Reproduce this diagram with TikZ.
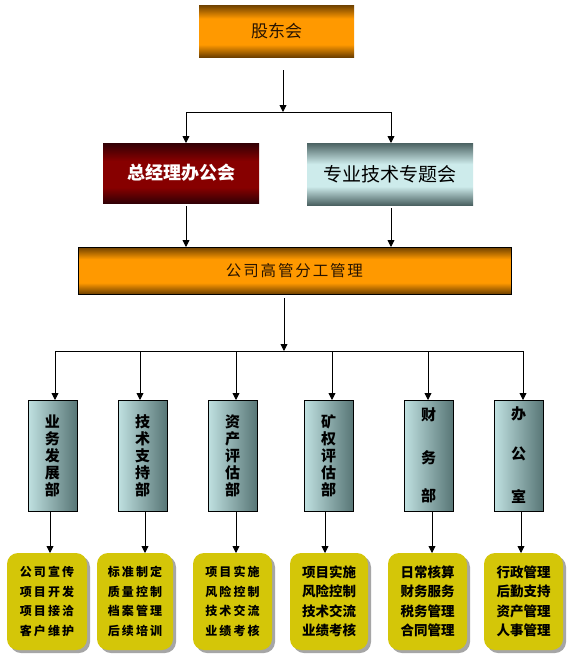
\documentclass[tikz,border=0pt]{standalone}
\usepackage{fontspec}
\setmainfont{Noto Sans CJK SC}
\newfontfamily\cjksp[LetterSpace=18]{Noto Sans CJK SC}
\usetikzlibrary{arrows.meta,shadows}
\definecolor{orng}{RGB}{255,153,0}
\definecolor{orngd}{RGB}{110,64,0}
\definecolor{redm}{RGB}{135,0,0}
\definecolor{redd}{RGB}{50,0,5}
\definecolor{cyanl}{RGB}{205,235,235}
\definecolor{cyand}{RGB}{75,98,98}
\definecolor{deptl}{RGB}{192,225,225}
\definecolor{deptd}{RGB}{88,118,118}
\definecolor{ylw}{RGB}{212,198,8}
\definecolor{txtd}{RGB}{40,20,0}
\pgfdeclareverticalshading{orangesh}{100bp}{color(0bp)=(orngd); color(25bp)=(orngd); color(37bp)=(orng); color(62bp)=(orng); color(75bp)=(orngd); color(100bp)=(orngd)}
\pgfdeclareverticalshading{redsh}{100bp}{color(0bp)=(redd); color(25bp)=(redd); color(38bp)=(redm); color(60bp)=(redm); color(75bp)=(redd); color(100bp)=(redd)}
\pgfdeclareverticalshading{cyansh}{100bp}{color(0bp)=(cyand); color(25bp)=(cyand); color(40bp)=(cyanl); color(58bp)=(cyanl); color(75bp)=(cyand); color(100bp)=(cyand)}
\begin{document}
\begin{tikzpicture}[x=1pt,y=-1pt,
  arr/.style={-{Triangle[width=7pt,length=7pt]},line width=0.9pt},
  ln/.style={line width=0.9pt},
  basebox/.style={inner sep=0pt,outer sep=0pt,anchor=center},
  orangebox/.style={basebox,shading=orangesh,text=txtd},
  redbox/.style={basebox,shading=redsh,text=white,font=\fontsize{18}{20}\selectfont\bfseries},
  cyanbox/.style={basebox,shading=cyansh,text=black,font=\fontsize{19}{21}\selectfont},
  dept/.style={basebox,draw=black,line width=0.8pt,left color=deptl,right color=deptd,minimum width=49pt,minimum height=111pt,align=center,font=\fontsize{15}{17}\selectfont\bfseries},
  ybox/.style={basebox,fill=ylw,rounded corners=11pt,minimum height=97pt,minimum width=#1,align=center,
     drop shadow={shadow xshift=3pt,shadow yshift=-3pt,fill=black!35,opacity=1}},
  ytxtA/.style={font=\cjksp\fontsize{12}{19.5}\selectfont\bfseries},
  ytxtB/.style={font=\fontsize{13.5}{19.5}\selectfont\bfseries}
]
\useasboundingbox[fill=white] (0,0) rectangle (572,662);

% top level
\node[orangebox,minimum width=155pt,minimum height=52pt,font=\fontsize{17}{19}\selectfont] (top) at (276.5,31) {股东会};
\node[redbox,minimum width=156pt,minimum height=60pt] (gm) at (181,173) {总经理办公会};
\node[cyanbox,minimum width=166pt,minimum height=62pt] (pro) at (390,174) {专业技术专题会};
\node[orangebox,draw=black,line width=0.8pt,minimum width=433pt,minimum height=47pt,font=\fontsize{15.5}{17}\selectfont] (big) at (294.5,270.5) {\addfontfeature{LetterSpace=12}公司高管分工管理};

% departments
\node[dept] (d1) at (52.5,455.5) {业\\务\\发\\展\\部};
\node[dept] (d2) at (142.5,455.5) {技\\术\\支\\持\\部};
\node[dept] (d3) at (232.5,455.5) {资\\产\\评\\估\\部};
\node[dept] (d4) at (328.5,455.5) {矿\\权\\评\\估\\部};
\node[dept] (d5) at (428.5,455.5) {财\\[26pt]务\\[21pt]部};
\node[dept] (d6) at (518.5,455.5) {办\\[23pt]公\\[26pt]室};

% duty boxes
\node[ybox=80pt,ytxtA] (y1) at (47,601.5) {公司宣传\\项目开发\\项目接洽\\客户维护};
\node[ybox=76pt,ytxtA] (y2) at (135,601.5) {标准制定\\质量控制\\档案管理\\后续培训};
\node[ybox=79pt,ytxtA] (y3) at (232.5,601.5) {项目实施\\风险控制\\技术交流\\业绩考核};
\node[ybox=78pt,ytxtB] (y4) at (329,601.5) {项目实施\\风险控制\\技术交流\\业绩考核};
\node[ybox=79pt,ytxtB] (y5) at (427.5,601.5) {日常核算\\财务服务\\税务管理\\合同管理};
\node[ybox=79pt,ytxtB] (y6) at (523.5,601.5) {行政管理\\后勤支持\\资产管理\\人事管理};

% connectors top part
\coordinate (j0) at (283,70);
\coordinate (j1) at (283,112);
\coordinate (a1) at (186,112);
\coordinate (a2) at (391,112);
\draw[arr] (j0) -- (j1);
\draw[ln] (a1) -- (a2);
\draw[arr] (a1) -- (a1 |- gm.north);
\draw[arr] (a2) -- (a2 |- pro.north);
\draw[arr,shorten <=3pt] (gm.south -| a1) -- (big.north -| a1);
\draw[arr,shorten <=3pt] (pro.south -| a2) -- (big.north -| a2);

% connectors to departments
\coordinate (j2) at (284,351);
\draw[arr,shorten <=4pt] (big.south -| j2) -- (j2);
\coordinate (b1) at (55,351);
\coordinate (b2) at (140,351);
\coordinate (b3) at (236,351);
\coordinate (b4) at (332,351);
\coordinate (b5) at (428,351);
\coordinate (b6) at (523,351);
\draw[ln] (b1) -- (b6);
\foreach \i in {1,...,6}{\draw[arr] (b\i) -- (b\i |- d\i.north);}

% connectors to duty boxes
\coordinate (c1) at (50,511);
\coordinate (c2) at (145,511);
\coordinate (c3) at (236,511);
\coordinate (c4) at (325,511);
\coordinate (c5) at (432,511);
\coordinate (c6) at (521,511);
\foreach \i in {1,...,6}{\draw[arr] (c\i) -- (c\i |- y\i.north);}
\end{tikzpicture}
\end{document}
